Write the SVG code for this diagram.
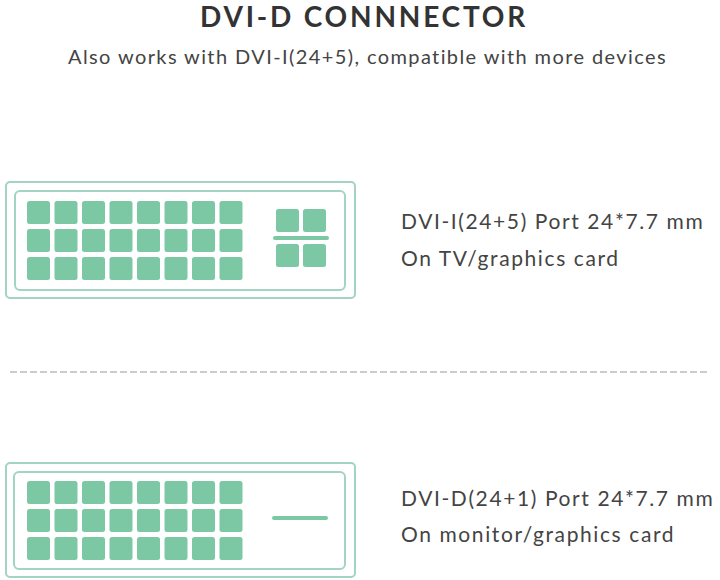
<svg xmlns="http://www.w3.org/2000/svg" width="720" height="580" viewBox="0 0 720 580">
<defs>
<style>
.t{font-family:"Lato","Open Sans",sans-serif;fill:#444}
.l{font-size:21px;letter-spacing:1.6px}
.o{fill:none;stroke:#a3d3c1;stroke-width:2}
.p{fill:#7cc8a5}
</style>
<rect id="pin" class="p" width="23" height="23" rx="2.5"/>
<g id="grid">
<use href="#pin" x="27" y="0"/><use href="#pin" x="54.5" y="0"/><use href="#pin" x="82" y="0"/><use href="#pin" x="109.5" y="0"/><use href="#pin" x="137" y="0"/><use href="#pin" x="164.5" y="0"/><use href="#pin" x="192" y="0"/><use href="#pin" x="219.5" y="0"/>
<use href="#pin" x="27" y="28"/><use href="#pin" x="54.5" y="28"/><use href="#pin" x="82" y="28"/><use href="#pin" x="109.5" y="28"/><use href="#pin" x="137" y="28"/><use href="#pin" x="164.5" y="28"/><use href="#pin" x="192" y="28"/><use href="#pin" x="219.5" y="28"/>
<use href="#pin" x="27" y="56"/><use href="#pin" x="54.5" y="56"/><use href="#pin" x="82" y="56"/><use href="#pin" x="109.5" y="56"/><use href="#pin" x="137" y="56"/><use href="#pin" x="164.5" y="56"/><use href="#pin" x="192" y="56"/><use href="#pin" x="219.5" y="56"/>
</g>
</defs>
<rect width="720" height="580" fill="#fff"/>
<text class="t" x="200" y="27" font-size="28" font-weight="bold" letter-spacing="2.8" style="fill:#333">DVI-D CONNNECTOR</text>
<text class="t" x="68" y="64" font-size="20" letter-spacing="1.4">Also works with DVI-I(24+5), compatible with more devices</text>
<g id="dvi-i">
<rect class="o" x="6" y="182" width="349" height="116" rx="4"/>
<rect class="o" x="15" y="191" width="330" height="99" rx="5"/>
<use href="#grid" y="201"/>
<rect class="p" x="276" y="209" width="23" height="23" rx="2.5"/>
<rect class="p" x="303" y="209" width="23" height="23" rx="2.5"/>
<rect class="p" x="276" y="244" width="23" height="23" rx="2.5"/>
<rect class="p" x="303" y="244" width="23" height="23" rx="2.5"/>
<rect class="p" x="273" y="236" width="56" height="4" rx="2"/>
<text class="t l" x="401" y="229">DVI-I(24+5) Port 24*7.7 mm</text>
<text class="t l" x="401" y="266">On TV/graphics card</text>
</g>
<g id="connectors">
<line x1="10" y1="372" x2="710" y2="372" stroke="#999" stroke-width="1" stroke-dasharray="7 3"/>
</g>
<g id="dvi-d">
<rect class="o" x="6" y="463" width="349" height="114" rx="4"/>
<rect class="o" x="14" y="472" width="331" height="97" rx="5"/>
<use href="#grid" y="481"/>
<rect class="p" x="272" y="516" width="56" height="4" rx="2"/>
<text class="t l" x="401" y="506">DVI-D(24+1) Port 24*7.7 mm</text>
<text class="t l" x="401" y="542">On monitor/graphics card</text>
</g>
</svg>
